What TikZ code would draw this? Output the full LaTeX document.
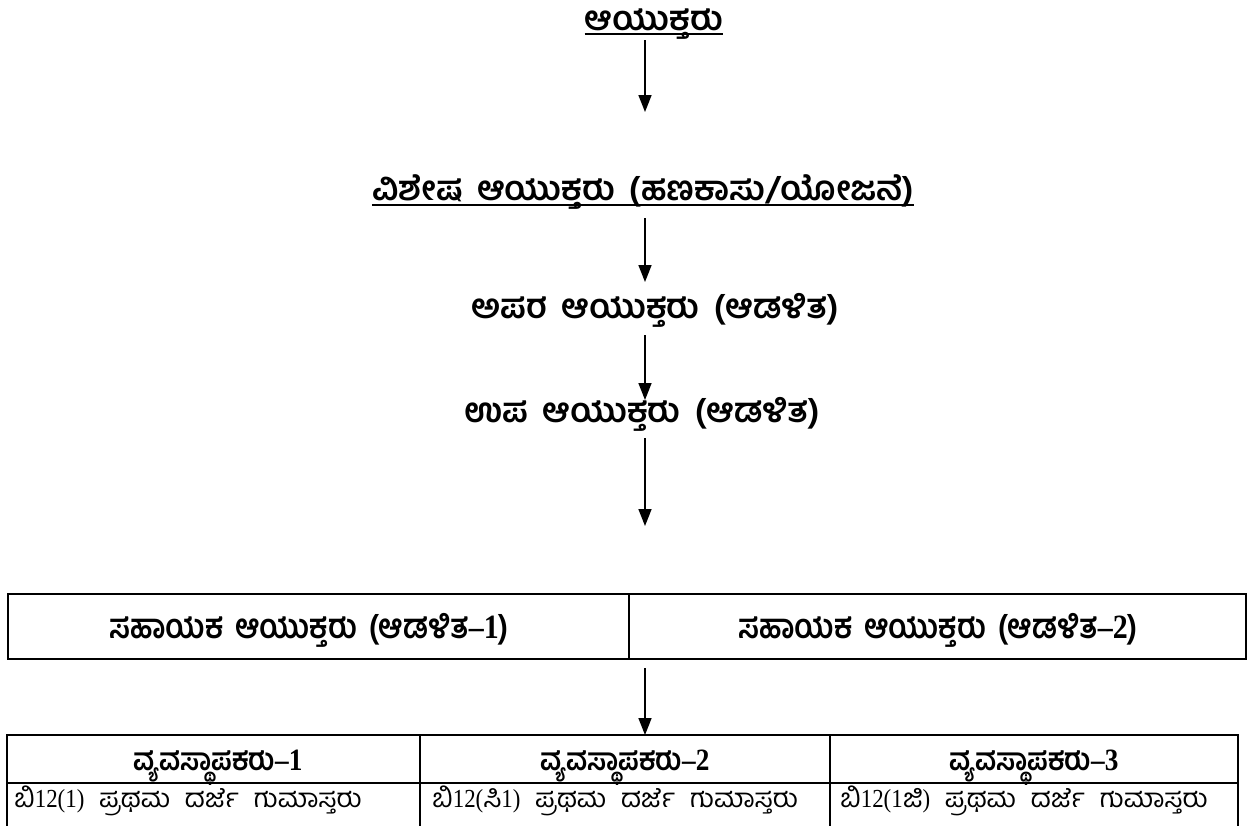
\documentclass[tikz,border=0pt]{standalone}
\usepackage{fontspec}
\setmainfont{Liberation Serif}
\newfontfamily\kn[Script=Kannada,WordSpace=1.7]{Hind Mysuru}
\newfontfamily\knc[Script=Kannada,FakeStretch=0.88,WordSpace=1.6]{Hind Mysuru}
\newfontfamily\knr[Script=Kannada,FakeStretch=1.05,WordSpace=2.2]{Hind Mysuru}
\newfontfamily\ser[FakeStretch=0.88]{Liberation Serif}
\usetikzlibrary{arrows.meta}
\tikzset{
  head/.style={font=\kn\bfseries\fontsize{34}{38}\selectfont, inner sep=0pt, anchor=base},
  cellhead/.style={font=\knc\bfseries\fontsize{34}{38}\selectfont, inner sep=0pt, anchor=base},
  mhead/.style={font=\knc\bfseries\fontsize{31}{34}\selectfont, inner sep=0pt, anchor=base},
  cellrow/.style={font=\knr\fontsize{26}{29}\selectfont, inner sep=0pt, anchor=base west},
  arr/.style={line width=1.6pt, -{Triangle[length=17pt,width=13pt]}},
  ul/.style={line width=2pt},
  tbl/.style={line width=2.2pt},
}
\begin{document}
\begin{tikzpicture}[x=1pt,y=-1pt]
\useasboundingbox (0,0) rectangle (1249,825);
\coordinate (axis) at (645,0);
% headings
\node[head] (t1) at (654,30) {ಆಯುಕ್ತರು};
\draw[ul] ([yshift=-4pt]t1.base west) -- ([yshift=-4pt]t1.base east);
\node[head] (t2) at (643,200) {ವಿಶೇಷ ಆಯುಕ್ತರು (ಹಣಕಾಸು/ಯೋಜನೆ)};
\draw[ul] ([yshift=-5pt]t2.base west) -- ([yshift=-5pt]t2.base east);
\node[head] (t3) at (655,318) {ಅಪರ ಆಯುಕ್ತರು (ಆಡಳಿತ)};
\node[head] (t4) at (642,422) {ಉಪ ಆಯುಕ್ತರು (ಆಡಳಿತ)};
% table 1
\draw[tbl] (8,594) rectangle (1246,659);
\draw[tbl] (629,594) -- (629,659);
\coordinate (tb1top) at (645,594);
\coordinate (tb1bot) at (645,659);
\node[cellhead] (a1) at (309,638) {ಸಹಾಯಕ ಆಯುಕ್ತರು (ಆಡಳಿತ{\ser–1})};
\node[cellhead] (a2) at (938,638) {ಸಹಾಯಕ ಆಯುಕ್ತರು (ಆಡಳಿತ{\ser–2})};
% table 2
\draw[tbl, line width=2pt] (7,828) -- (7,735) -- (1238,735) -- (1238,828);
\draw[tbl, line width=2pt] (7,783) -- (1238,783);
\draw[tbl, line width=2pt] (420,735) -- (420,828);
\draw[tbl, line width=2pt] (830,735) -- (830,828);
\coordinate (tb2top) at (645,735);
\node[mhead] (m1) at (218,770) {ವ್ಯವಸ್ಥಾಪಕರು{\ser–1}};
\node[mhead] (m2) at (625,770) {ವ್ಯವಸ್ಥಾಪಕರು{\ser–2}};
\node[mhead] (m3) at (1034,770) {ವ್ಯವಸ್ಥಾಪಕರು{\ser–3}};
\node[cellrow] (r1) at (14,807) {ಬಿ{\ser 12(1)} ಪ್ರಥಮ ದರ್ಜೆ ಗುಮಾಸ್ತರು};
\node[cellrow] (r2) at (432,807) {ಬಿ{\ser 12(}ಸಿ{\ser 1)} ಪ್ರಥಮ ದರ್ಜೆ ಗುಮಾಸ್ತರು};
\node[cellrow] (r3) at (840,807) {ಬಿ{\ser 12(1}ಜಿ{\ser )} ಪ್ರಥಮ ದರ್ಜೆ ಗುಮಾಸ್ತರು};
% arrows
\draw[arr] ([yshift=-10pt]t1.base -| axis) -- ([yshift=-82pt]t1.base -| axis);
\draw[arr] ([yshift=-18pt]t2.base -| axis) -- ([yshift=-82pt]t2.base -| axis);
\draw[arr] ([yshift=-17pt]t3.base -| axis) -- ([yshift=-82pt]t3.base -| axis);
\draw[arr] ([yshift=-16pt]t4.base -| axis) -- ([yshift=-104pt]t4.base -| axis);
\draw[arr] ([yshift=-9pt]tb1bot) -- (tb2top);
\end{tikzpicture}
\end{document}
